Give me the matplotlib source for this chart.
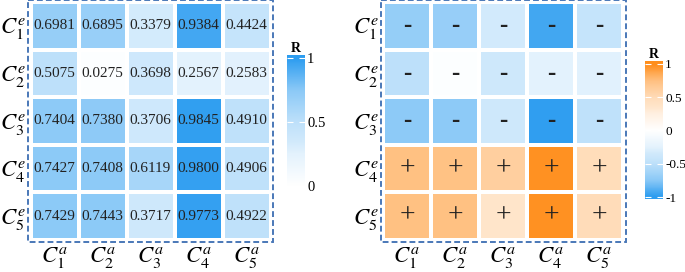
import numpy as np
import matplotlib
matplotlib.use("Agg")
import matplotlib.pyplot as plt
from matplotlib.colors import LinearSegmentedColormap, Normalize
from matplotlib.patches import Rectangle

# correlation magnitudes (rows = C^e, cols = C^a)
row_labels = [r"$C_{%d}^{e}$" % i for i in range(1, 6)]
col_labels = [r"$C_{%d}^{a}$" % i for i in range(1, 6)]
r_values = np.array([
    [0.6981, 0.6895, 0.3379, 0.9384, 0.4424],
    [0.5075, 0.0275, 0.3698, 0.2567, 0.2583],
    [0.7404, 0.7380, 0.3706, 0.9845, 0.4910],
    [0.7427, 0.7408, 0.6119, 0.9800, 0.4906],
    [0.7429, 0.7443, 0.3717, 0.9773, 0.4922],
])
row_signs = [-1, -1, -1, 1, 1]
left_ticks = [0, 0.5, 1]
right_ticks = [-1, -0.5, 0, 0.5, 1]

plt.rcParams["font.family"] = ["Liberation Serif", "DejaVu Serif"]
plt.rcParams["mathtext.fontset"] = "stix"

blue = np.array([45, 157, 240]) / 255
orange = np.array([255, 142, 28]) / 255
white = np.ones(3)
ramp_t = [0, 0.25, 0.35, 0.5, 0.75, 1.0]
ramp_f = [0, 0.13, 0.22, 0.31, 0.55, 1.0]


def ramp(end):
    return [(t, tuple(white + f * (end - white))) for t, f in zip(ramp_t, ramp_f)]


cmap_left = LinearSegmentedColormap.from_list("left", ramp(blue))
neg = [((1 - t) / 2, c) for t, c in ramp(blue)][::-1]
pos = [((1 + t) / 2, c) for t, c in ramp(orange)][1:]
cmap_right = LinearSegmentedColormap.from_list("right", neg + pos)
norm_left = Normalize(0, 1)
norm_right = Normalize(-1, 1)

fig = plt.figure(figsize=(6.85, 2.72), dpi=100)
W, H = 685, 272


def fig_axes(x0, y0, x1, y1):
    return fig.add_axes([x0 / W, 1 - y1 / H, (x1 - x0) / W, (y1 - y0) / H])


border_color = "#4a78b8"


def heatmap(ax, data, cmap, norm, texts):
    ax.pcolormesh(data, cmap=cmap, norm=norm, edgecolors="white", linewidth=1.6)
    ax.set_xlim(0, 5)
    ax.set_ylim(5, 0)
    ax.set_xticks(np.arange(5) + 0.5)
    ax.set_yticks(np.arange(5) + 0.5)
    ax.set_xticklabels(col_labels, fontsize=16.5)
    ax.set_yticklabels(row_labels, fontsize=16.5)
    ax.tick_params(axis="x", length=0, pad=4)
    ax.tick_params(axis="y", length=0, pad=3)
    for s in ax.spines.values():
        s.set_visible(False)
    for i in range(5):
        for j in range(5):
            t, kw = texts(i, j)
            ax.text(j + 0.5, i + 0.5, t, ha="center", va="center", **kw)
    px = 2.5 / 48
    ax.add_patch(Rectangle((-px, -px), 5 + 2 * px, 5 + 2 * px, fill=False,
                           ec=border_color, lw=1.4, ls=(0, (3, 1.6)),
                           clip_on=False, zorder=5))


def colorbar(cax, cmap, norm, lo, hi, ticks, labels, size):
    grad = np.linspace(lo, hi, 256)[:, None]
    cax.imshow(grad, cmap=cmap, norm=norm, aspect="auto", origin="lower",
               extent=[0, 1, lo, hi])
    cax.set_xlim(0, 1)
    cax.set_ylim(lo, hi)
    cax.set_xticks([])
    cax.yaxis.tick_right()
    cax.set_yticks(ticks)
    cax.set_yticklabels(labels)
    for s in cax.spines.values():
        s.set_visible(False)
    cax.tick_params(direction="in", length=4, width=0.8, color="white",
                    left=True, right=True, labelsize=size, pad=1.5)
    cax.set_title("R", fontsize=10, fontweight="bold", pad=1)


# left: magnitudes
ax1 = fig_axes(30.5, 2, 270.5, 240)
heatmap(ax1, r_values, cmap_left, norm_left,
        lambda i, j: ("%.4f" % r_values[i, j], dict(fontsize=11, color="#222222")))
cax1 = fig_axes(287, 55, 305, 192)
colorbar(cax1, cmap_left, norm_left, -0.045, 1.023, left_ticks, ["0", "0.5", "1"], 10.5)

# right: signed
signed = r_values * np.array(row_signs)[:, None]
ax2 = fig_axes(383, 2, 623, 240)
heatmap(ax2, signed, cmap_right, norm_right,
        lambda i, j: ("+", dict(fontsize=20, color="#222222")) if signed[i, j] > 0
        else ("-", dict(fontsize=18, fontweight="bold", color="#222222")))
cax2 = fig_axes(645, 61, 663, 199)
colorbar(cax2, cmap_right, norm_right, -1.03, 1.045, right_ticks,
         ["-1", "-0.5", "0", "0.5", "1"], 9.5)

fig.savefig("out.png", dpi=100)
